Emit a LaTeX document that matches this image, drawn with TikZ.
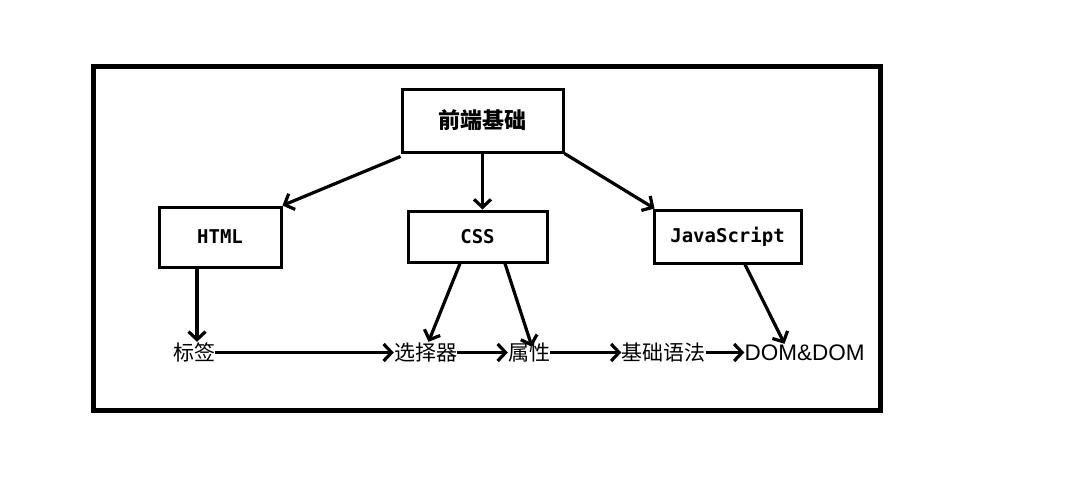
\documentclass[tikz,border=0pt]{standalone}
\usepackage{fontspec}
\newfontfamily\cjk{Noto Sans CJK SC}
\newfontfamily\mono{DejaVu Sans Mono}
\newfontfamily\lat{Liberation Sans}
\usetikzlibrary{arrows.meta}
\begin{document}
\begin{tikzpicture}[x=1pt,y=-1pt,
  box/.style={draw,line width=3pt,inner sep=0pt,font=\mono\bfseries\fontsize{19}{19}\selectfont},
  lbl/.style={inner sep=0pt,text height=18pt,text depth=3pt,font=\cjk\fontsize{21}{21}\selectfont},
  arr/.style={line width=3.2pt,-{Straight Barb[length=8pt,width=17pt]}}]
\useasboundingbox (0,0) rectangle (1068,499);
\node[draw,line width=5pt,minimum width=787pt,minimum height=344pt,inner sep=0pt] (frame) at (486.5,238) {};
\node[box,minimum width=161pt,minimum height=63pt,font=\cjk\bfseries\fontsize{22}{22}\selectfont] (top) at (482.5,120.5) {前端基础};
\node[box,minimum width=122pt,minimum height=60pt] (html) at (220,237) {HTML};
\node[box,minimum width=139pt,minimum height=51pt] (css) at (477.5,236.5) {CSS};
\node[box,minimum width=147pt,minimum height=53pt] (js) at (727.5,236.5) {JavaScript};
\node[lbl] (bq) at (194,352.5) {标签};
\node[lbl] (xz) at (425.5,352.5) {选择器};
\node[lbl] (sx) at (529,352.5) {属性};
\node[lbl] (jc) at (663.5,352.5) {基础语法};
\node[lbl,font=\lat\fontsize{22.5}{22.5}\selectfont] (dom) at (804.5,352.5) {DOM\&DOM};
\draw[arr] ([yshift=-3pt]top.south west) -- (html.north east);
\draw[arr] (top.south) -- (top.south |- css.north);
\draw[arr] (top.south east) -- ([xshift=2pt]js.north west);
\draw[arr] ([xshift=3pt]bq.north |- html.south) -- ([xshift=3pt]bq.north);
\draw[arr] ([xshift=-17.5pt]css.south) -- ([xshift=3pt]xz.north);
\draw[arr] ([xshift=27.5pt]css.south) -- ([xshift=3pt,yshift=-5pt]sx.north);
\draw[arr] ([xshift=17.5pt]js.south) -- ([xshift=-20pt,yshift=-2pt]dom.north);
\draw[arr] (bq.east) -- (xz.west);
\draw[arr] (xz.east) -- (sx.west);
\draw[arr] (sx.east) -- (jc.west);
\draw[arr] (jc.east) -- (dom.west);
\end{tikzpicture}
\end{document}
